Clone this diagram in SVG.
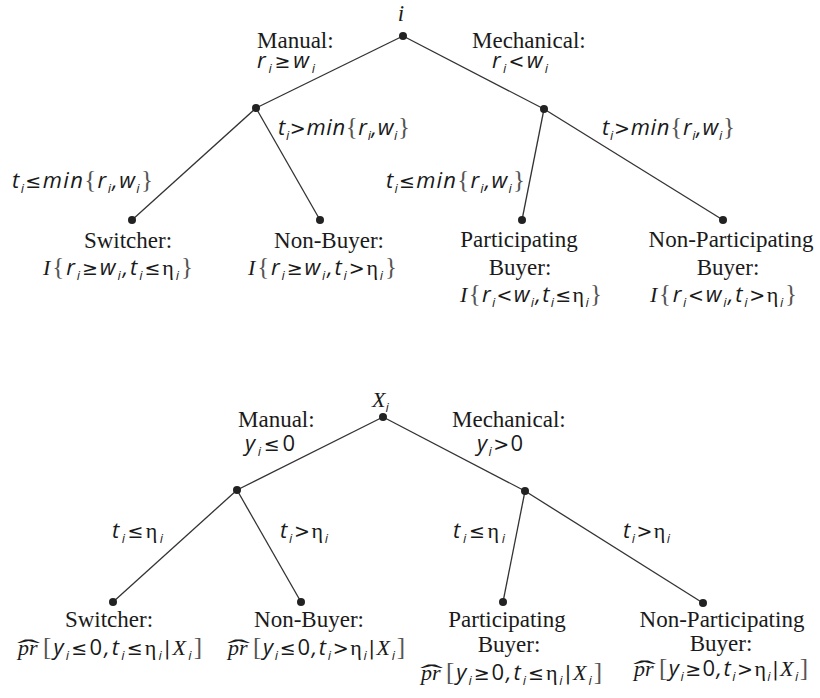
<svg xmlns="http://www.w3.org/2000/svg" width="820" height="698" viewBox="0 0 820 698">
<style>
.bg{fill:#fff}
.lbl{font-family:"Liberation Serif",serif;font-size:23px;fill:#1a1a1a;text-anchor:middle}
.lbll{font-family:"Liberation Serif",serif;font-size:23px;fill:#1a1a1a}
.m{font-family:"Open Sans",sans-serif;font-style:italic;font-size:22px;fill:#1a1a1a}
.s{font-size:13px}
.u{font-family:"DejaVu Sans",sans-serif;font-style:normal;font-size:19px}
.sr{font-family:"Liberation Serif",serif}
.br{font-family:"Liberation Serif",serif;font-style:normal;font-size:25px;fill:#555}
.et{font-family:"Liberation Serif",serif;font-style:normal}
.edge{stroke:#333;stroke-width:1.3;fill:none}
.dot{fill:#222}
.pr{font-family:"Liberation Serif",serif;font-style:italic;font-size:22px;fill:#1a1a1a}
.hat{font-family:"Liberation Serif",serif;font-style:normal;font-size:24px}
</style>
<rect class="bg" width="820" height="698"/>

<g id="connectors">
  <line class="edge" x1="403" y1="36" x2="256" y2="108"/>
  <line class="edge" x1="403" y1="36" x2="544" y2="109"/>
  <line class="edge" x1="256" y1="108" x2="132" y2="220"/>
  <line class="edge" x1="256" y1="108" x2="320" y2="220"/>
  <line class="edge" x1="544" y1="109" x2="522" y2="220"/>
  <line class="edge" x1="544" y1="109" x2="723" y2="220"/>
  <line class="edge" x1="383" y1="417" x2="237" y2="490"/>
  <line class="edge" x1="383" y1="417" x2="525" y2="491"/>
  <line class="edge" x1="237" y1="490" x2="113" y2="602"/>
  <line class="edge" x1="237" y1="490" x2="301" y2="602"/>
  <line class="edge" x1="525" y1="491" x2="503" y2="602"/>
  <line class="edge" x1="525" y1="491" x2="703" y2="603"/>
</g>

<!-- Top tree -->
<g id="root-top">
  <circle class="dot" cx="403" cy="36" r="4"/>
  <text class="lbl" x="401" y="21" font-style="italic" font-size="24">i</text>
</g>
<g id="edge-label-manual-top">
  <text class="lbll" x="257" y="48">Manual:</text>
  <text class="m" x="257" y="68" textLength="58">r<tspan class="s" dy="5">i</tspan><tspan class="u" dy="-5">≥</tspan>w<tspan class="s" dy="5">i</tspan></text>
</g>
<g id="edge-label-mech-top">
  <text class="lbll" x="472" y="48">Mechanical:</text>
  <text class="m" x="492" y="68" textLength="56">r<tspan class="s" dy="5">i</tspan><tspan class="u" dy="-5">&lt;</tspan>w<tspan class="s" dy="5">i</tspan></text>
</g>
<g id="manual-top">
  <circle class="dot" cx="256" cy="108" r="4"/>
  <text class="m" x="12" y="188" textLength="141">t<tspan class="s" dy="5">i</tspan><tspan class="u" dy="-5">≤</tspan>min<tspan class="br">{</tspan>r<tspan class="s" dy="5">i</tspan><tspan dy="-5">,</tspan>w<tspan class="s" dy="5">i</tspan><tspan class="br" dy="-5">}</tspan></text>
  <text class="m" x="278" y="135" textLength="132">t<tspan class="s" dy="5">i</tspan><tspan class="u" dy="-5">&gt;</tspan>min<tspan class="br">{</tspan>r<tspan class="s" dy="5">i</tspan><tspan dy="-5">,</tspan>w<tspan class="s" dy="5">i</tspan><tspan class="br" dy="-5">}</tspan></text>
</g>
<g id="mech-top">
  <circle class="dot" cx="544" cy="109" r="4"/>
  <text class="m" x="386" y="188" textLength="139">t<tspan class="s" dy="5">i</tspan><tspan class="u" dy="-5">≤</tspan>min<tspan class="br">{</tspan>r<tspan class="s" dy="5">i</tspan><tspan dy="-5">,</tspan>w<tspan class="s" dy="5">i</tspan><tspan class="br" dy="-5">}</tspan></text>
  <text class="m" x="602" y="135" textLength="133">t<tspan class="s" dy="5">i</tspan><tspan class="u" dy="-5">&gt;</tspan>min<tspan class="br">{</tspan>r<tspan class="s" dy="5">i</tspan><tspan dy="-5">,</tspan>w<tspan class="s" dy="5">i</tspan><tspan class="br" dy="-5">}</tspan></text>
</g>
<g id="switcher-top">
  <circle class="dot" cx="132" cy="220" r="4"/>
  <text class="lbl" x="128" y="248">Switcher:</text>
  <text class="m" x="43" y="275" textLength="150"><tspan class="sr">I</tspan><tspan class="br">{</tspan>r<tspan class="s" dy="5">i</tspan><tspan class="u" dy="-5">≥</tspan>w<tspan class="s" dy="5">i</tspan><tspan dy="-5">,</tspan>t<tspan class="s" dy="5">i</tspan><tspan class="u" dy="-5">≤</tspan><tspan class="et">η</tspan><tspan class="s" dy="5">i</tspan><tspan class="br" dy="-5">}</tspan></text>
</g>
<g id="nonbuyer-top">
  <circle class="dot" cx="320" cy="220" r="4"/>
  <text class="lbl" x="329" y="248">Non-Buyer:</text>
  <text class="m" x="248" y="275" textLength="149"><tspan class="sr">I</tspan><tspan class="br">{</tspan>r<tspan class="s" dy="5">i</tspan><tspan class="u" dy="-5">≥</tspan>w<tspan class="s" dy="5">i</tspan><tspan dy="-5">,</tspan>t<tspan class="s" dy="5">i</tspan><tspan class="u" dy="-5">&gt;</tspan><tspan class="et">η</tspan><tspan class="s" dy="5">i</tspan><tspan class="br" dy="-5">}</tspan></text>
</g>
<g id="participating-top">
  <circle class="dot" cx="522" cy="220" r="4"/>
  <text class="lbl" x="519" y="247">Participating</text>
  <text class="lbl" x="520" y="275">Buyer:</text>
  <text class="m" x="460" y="302" textLength="142"><tspan class="sr">I</tspan><tspan class="br">{</tspan>r<tspan class="s" dy="5">i</tspan><tspan class="u" dy="-5">&lt;</tspan>w<tspan class="s" dy="5">i</tspan><tspan dy="-5">,</tspan>t<tspan class="s" dy="5">i</tspan><tspan class="u" dy="-5">≤</tspan><tspan class="et">η</tspan><tspan class="s" dy="5">i</tspan><tspan class="br" dy="-5">}</tspan></text>
</g>
<g id="nonparticipating-top">
  <circle class="dot" cx="723" cy="220" r="4"/>
  <text class="lbl" x="731" y="247">Non-Participating</text>
  <text class="lbl" x="728" y="275">Buyer:</text>
  <text class="m" x="650" y="302" textLength="147"><tspan class="sr">I</tspan><tspan class="br">{</tspan>r<tspan class="s" dy="5">i</tspan><tspan class="u" dy="-5">&lt;</tspan>w<tspan class="s" dy="5">i</tspan><tspan dy="-5">,</tspan>t<tspan class="s" dy="5">i</tspan><tspan class="u" dy="-5">&gt;</tspan><tspan class="et">η</tspan><tspan class="s" dy="5">i</tspan><tspan class="br" dy="-5">}</tspan></text>
</g>

<!-- Bottom tree -->
<g id="root-bottom">
  <circle class="dot" cx="383" cy="417" r="4"/>
  <text class="m" x="372" y="407"><tspan class="sr">X</tspan><tspan class="s" dy="5">i</tspan></text>
</g>
<g id="edge-label-manual-bottom">
  <text class="lbll" x="238" y="427">Manual:</text>
  <text class="m" x="245" y="451" textLength="50">y<tspan class="s" dy="5">i</tspan><tspan class="u" dy="-5">≤</tspan><tspan font-style="normal">0</tspan></text>
</g>
<g id="edge-label-mech-bottom">
  <text class="lbll" x="452" y="427">Mechanical:</text>
  <text class="m" x="477" y="451" textLength="46">y<tspan class="s" dy="5">i</tspan><tspan class="u" dy="-5">&gt;</tspan><tspan font-style="normal">0</tspan></text>
</g>
<g id="manual-bottom">
  <circle class="dot" cx="237" cy="490" r="4"/>
  <text class="m" x="112" y="538" textLength="51">t<tspan class="s" dy="5">i</tspan><tspan class="u" dy="-5">≤</tspan><tspan class="et">η</tspan><tspan class="s" dy="5">i</tspan></text>
  <text class="m" x="280" y="538" textLength="48">t<tspan class="s" dy="5">i</tspan><tspan class="u" dy="-5">&gt;</tspan><tspan class="et">η</tspan><tspan class="s" dy="5">i</tspan></text>
</g>
<g id="mech-bottom">
  <circle class="dot" cx="525" cy="491" r="4"/>
  <text class="m" x="453" y="538" textLength="52">t<tspan class="s" dy="5">i</tspan><tspan class="u" dy="-5">≤</tspan><tspan class="et">η</tspan><tspan class="s" dy="5">i</tspan></text>
  <text class="m" x="623" y="538" textLength="47">t<tspan class="s" dy="5">i</tspan><tspan class="u" dy="-5">&gt;</tspan><tspan class="et">η</tspan><tspan class="s" dy="5">i</tspan></text>
</g>
<g id="switcher-bottom">
  <circle class="dot" cx="113" cy="602" r="4"/>
  <text class="lbl" x="109" y="627">Switcher:</text>
  <text class="pr" x="18" y="655">pr<tspan class="hat" x="17" dy="1" textLength="23" lengthAdjust="spacingAndGlyphs">ˆ</tspan></text>
  <text class="m" x="43" y="655" textLength="159"><tspan class="br">[</tspan>y<tspan class="s" dy="5">i</tspan><tspan class="u" dy="-5">≤</tspan><tspan font-style="normal">0</tspan>,t<tspan class="s" dy="5">i</tspan><tspan class="u" dy="-5">≤</tspan><tspan class="et">η</tspan><tspan class="s" dy="5">i</tspan><tspan class="u" dy="-5">|</tspan><tspan class="sr">X</tspan><tspan class="s" dy="5">i</tspan><tspan class="br" dy="-5">]</tspan></text>
</g>
<g id="nonbuyer-bottom">
  <circle class="dot" cx="301" cy="602" r="4"/>
  <text class="lbl" x="309" y="627">Non-Buyer:</text>
  <text class="pr" x="228" y="655">pr<tspan class="hat" x="227" dy="1" textLength="23" lengthAdjust="spacingAndGlyphs">ˆ</tspan></text>
  <text class="m" x="253" y="655" textLength="152"><tspan class="br">[</tspan>y<tspan class="s" dy="5">i</tspan><tspan class="u" dy="-5">≤</tspan><tspan font-style="normal">0</tspan>,t<tspan class="s" dy="5">i</tspan><tspan class="u" dy="-5">&gt;</tspan><tspan class="et">η</tspan><tspan class="s" dy="5">i</tspan><tspan class="u" dy="-5">|</tspan><tspan class="sr">X</tspan><tspan class="s" dy="5">i</tspan><tspan class="br" dy="-5">]</tspan></text>
</g>
<g id="participating-bottom">
  <circle class="dot" cx="503" cy="602" r="4"/>
  <text class="lbl" x="507" y="627">Participating</text>
  <text class="lbl" x="509" y="652">Buyer:</text>
  <text class="pr" x="421" y="680">pr<tspan class="hat" x="420" dy="1" textLength="23" lengthAdjust="spacingAndGlyphs">ˆ</tspan></text>
  <text class="m" x="446" y="680" textLength="156"><tspan class="br">[</tspan>y<tspan class="s" dy="5">i</tspan><tspan class="u" dy="-5">≥</tspan><tspan font-style="normal">0</tspan>,t<tspan class="s" dy="5">i</tspan><tspan class="u" dy="-5">≤</tspan><tspan class="et">η</tspan><tspan class="s" dy="5">i</tspan><tspan class="u" dy="-5">|</tspan><tspan class="sr">X</tspan><tspan class="s" dy="5">i</tspan><tspan class="br" dy="-5">]</tspan></text>
</g>
<g id="nonparticipating-bottom">
  <circle class="dot" cx="703" cy="603" r="4"/>
  <text class="lbl" x="722" y="627">Non-Participating</text>
  <text class="lbl" x="721" y="651">Buyer:</text>
  <text class="pr" x="634" y="676">pr<tspan class="hat" x="633" dy="1" textLength="23" lengthAdjust="spacingAndGlyphs">ˆ</tspan></text>
  <text class="m" x="659" y="676" textLength="149"><tspan class="br">[</tspan>y<tspan class="s" dy="5">i</tspan><tspan class="u" dy="-5">≥</tspan><tspan font-style="normal">0</tspan>,t<tspan class="s" dy="5">i</tspan><tspan class="u" dy="-5">&gt;</tspan><tspan class="et">η</tspan><tspan class="s" dy="5">i</tspan><tspan class="u" dy="-5">|</tspan><tspan class="sr">X</tspan><tspan class="s" dy="5">i</tspan><tspan class="br" dy="-5">]</tspan></text>
</g>
</svg>
